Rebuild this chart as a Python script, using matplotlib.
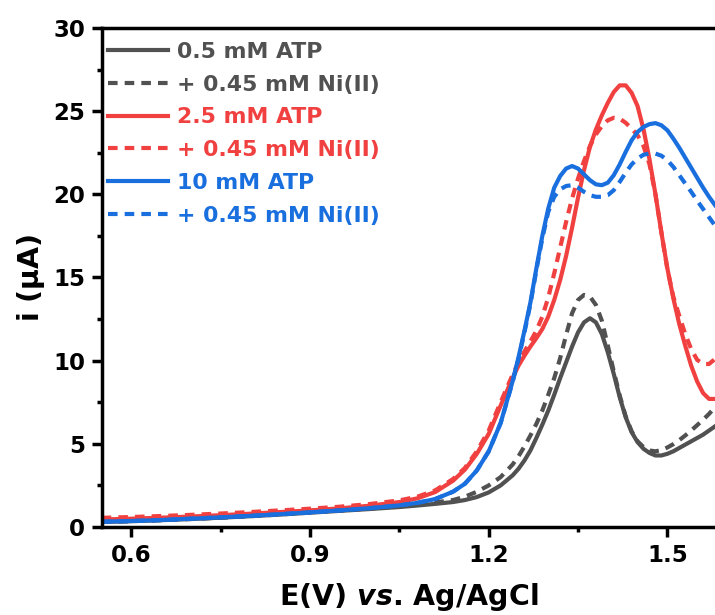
import matplotlib
matplotlib.use("Agg")
import matplotlib.pyplot as plt
from matplotlib.ticker import MultipleLocator

plt.rcParams['font.family'] = ['DejaVu Sans']
plt.rcParams['font.weight'] = 'bold'
plt.rcParams['axes.labelweight'] = 'bold'
plt.rcParams['mathtext.fontset'] = 'custom'
plt.rcParams['mathtext.rm'] = 'DejaVu Sans'
plt.rcParams['mathtext.it'] = 'DejaVu Sans:italic:bold'

# potential (V vs. Ag/AgCl)
E = [0.55, 0.60, 0.65, 0.70, 0.75, 0.80, 0.85, 0.90, 0.95, 1.00, 1.05,
     1.08, 1.11, 1.14, 1.16, 1.18, 1.20, 1.22, 1.24,
     1.25, 1.26, 1.27, 1.28, 1.29, 1.30, 1.31, 1.32, 1.33, 1.34, 1.35,
     1.36, 1.37, 1.38, 1.39, 1.40, 1.41, 1.42, 1.43, 1.44, 1.45, 1.46,
     1.47, 1.48, 1.49, 1.50, 1.51, 1.52, 1.53, 1.54, 1.55, 1.56, 1.57, 1.58]

# current (uA)
atp05 = [0.30, 0.35, 0.41, 0.48, 0.56, 0.65, 0.75, 0.86, 0.97, 1.08, 1.20,
         1.29, 1.39, 1.50, 1.62, 1.80, 2.08, 2.50, 3.10,
         3.50, 4.00, 4.60, 5.35, 6.15, 7.00, 7.95, 8.95, 9.90, 10.85, 11.70,
         12.30, 12.55, 12.30, 11.60, 10.50, 9.20, 7.80, 6.60, 5.70, 5.10, 4.70,
         4.45, 4.30, 4.30, 4.40, 4.55, 4.75, 4.95, 5.15, 5.35, 5.55, 5.80, 6.05]
atp05_ni = [0.30, 0.35, 0.41, 0.48, 0.56, 0.65, 0.75, 0.87, 0.99, 1.11, 1.25,
            1.36, 1.48, 1.62, 1.82, 2.12, 2.50, 3.00, 3.75,
            4.25, 4.85, 5.50, 6.20, 7.00, 7.95, 8.95, 10.15, 11.55, 12.85, 13.65,
            13.95, 13.85, 13.35, 12.40, 10.90, 9.35, 7.90, 6.65, 5.75, 5.15, 4.80,
            4.60, 4.55, 4.62, 4.78, 4.98, 5.22, 5.50, 5.80, 6.12, 6.45, 6.80, 7.20]
atp25 = [0.45, 0.50, 0.56, 0.63, 0.71, 0.80, 0.90, 1.00, 1.12, 1.28, 1.50,
         1.72, 2.10, 2.78, 3.45, 4.40, 5.60, 7.30, 8.95,
         9.70, 10.30, 10.85, 11.35, 11.90, 12.65, 13.65, 14.85, 16.30, 18.00, 19.80,
         21.45, 22.85, 23.90, 24.75, 25.50, 26.15, 26.55, 26.55, 26.10, 25.30, 23.90,
         22.10, 20.00, 17.70, 15.55, 13.75, 12.20, 10.90, 9.70, 8.75, 8.05, 7.70, 7.70]
atp25_ni = [0.55, 0.60, 0.66, 0.73, 0.81, 0.90, 1.00, 1.10, 1.22, 1.38, 1.60,
            1.82, 2.20, 2.88, 3.55, 4.55, 5.80, 7.50, 9.15,
            9.90, 10.55, 11.15, 11.80, 12.65, 13.80, 15.25, 16.80, 18.35, 19.75, 20.95,
            22.00, 22.90, 23.60, 24.10, 24.45, 24.60, 24.55, 24.30, 23.95, 23.55, 22.90,
            21.80, 20.00, 17.70, 15.50, 13.85, 12.70, 11.60, 10.70, 10.05, 9.80, 9.80, 10.10]
atp10 = [0.32, 0.36, 0.42, 0.50, 0.58, 0.67, 0.77, 0.88, 1.00, 1.13, 1.30,
         1.45, 1.68, 2.12, 2.60, 3.40, 4.55, 6.25, 8.75,
         10.20, 11.80, 13.50, 15.55, 17.50, 19.15, 20.40, 21.10, 21.55, 21.70, 21.55,
         21.20, 20.85, 20.60, 20.55, 20.70, 21.15, 21.80, 22.55, 23.25, 23.75, 24.05,
         24.22, 24.28, 24.15, 23.85, 23.35, 22.80, 22.20, 21.60, 21.00, 20.40, 19.85, 19.35]
atp10_ni = [0.32, 0.36, 0.42, 0.50, 0.58, 0.67, 0.77, 0.88, 1.00, 1.13, 1.30,
            1.45, 1.68, 2.12, 2.60, 3.40, 4.55, 6.25, 8.70,
            10.10, 11.70, 13.40, 15.45, 17.35, 18.95, 19.85, 20.30, 20.50, 20.55, 20.40,
            20.15, 19.95, 19.85, 19.85, 19.95, 20.25, 20.75, 21.30, 21.80, 22.15, 22.38,
            22.45, 22.45, 22.32, 22.05, 21.65, 21.15, 20.65, 20.15, 19.62, 19.12, 18.62, 18.12]

labels = ['0.5 mM ATP', '+ 0.45 mM Ni(II)', '2.5 mM ATP', '+ 0.45 mM Ni(II)',
          '10 mM ATP', '+ 0.45 mM Ni(II)']
xticks = [0.6, 0.9, 1.2, 1.5]
gray = '#515151'
red = '#F14040'
blue = '#1A6FDF'

fig = plt.figure(figsize=(7.15, 6.15), dpi=100)
ax = fig.add_axes([0.1422, 0.1431, 0.8578, 0.8114])

dash = (0, (2.3, 1.7))
series = [(atp05, gray, '-'), (atp05_ni, gray, dash),
          (atp25, red, '-'), (atp25_ni, red, dash),
          (atp10, blue, '-'), (atp10_ni, blue, dash)]
for (y, c, ls), lab in zip(series, labels):
    ax.plot(E, y, color=c, linestyle=ls, lw=3, label=lab, solid_joinstyle='round')

ax.set_xlim(0.55, 1.58)
ax.set_ylim(0, 30)
ax.set_xticks(xticks)
ax.set_xticklabels(['%.1f' % v for v in xticks])
ax.xaxis.set_minor_locator(MultipleLocator(0.15))
ax.yaxis.set_major_locator(MultipleLocator(5))
ax.yaxis.set_minor_locator(MultipleLocator(2.5))

for s in ['left', 'bottom', 'top']:
    ax.spines[s].set_linewidth(2.5)
ax.spines['right'].set_visible(False)
ax.tick_params(which='major', direction='out', length=7, width=2.5,
               labelsize=16.5, pad=5, top=False, right=False)
ax.tick_params(which='minor', direction='out', length=3.5, width=2.5,
               top=False, right=False)

ax.set_xlabel(r'E(V) $\mathit{vs}$. Ag/AgCl', fontsize=20.5, labelpad=10.5)
ax.set_ylabel(r'i ($\mathrm{\mu}$A)', fontsize=20.5, labelpad=4)

ax.legend(loc='upper left', bbox_to_anchor=(0.0103, 0.972), borderaxespad=0,
          borderpad=0, frameon=False, handlelength=2.74,
          handletextpad=0.41, labelspacing=0.58, labelcolor='linecolor',
          prop={'weight': 'bold', 'size': 15.8})

fig.savefig('out.png', dpi=100)
